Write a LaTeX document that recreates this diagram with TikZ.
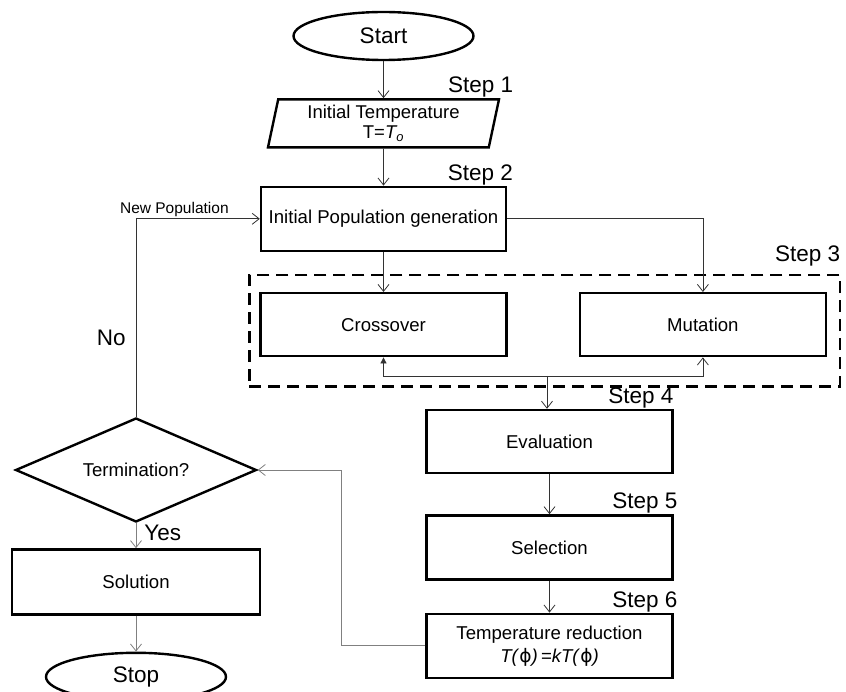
\documentclass[tikz,border=0pt]{standalone}
\usepackage{fontspec}
\setmainfont{Liberation Sans}
\newfontfamily\greekfont{DejaVu Sans}
\usepackage{xcolor}
\usepackage{tikz}
\usetikzlibrary{positioning, arrows.meta, fit, shapes.geometric}

\begin{document}
\begin{tikzpicture}[x=1pt, y=-1pt, node distance=40pt and 71pt]

	% Styles
	\tikzset{
		terminal/.style={
			ellipse, draw, line width=2.4pt,
			minimum width=180pt, minimum height=48pt,
			inner sep=0pt, font=\fontsize{22.5}{26}\selectfont
		},
		inputbox/.style={
			trapezium, trapezium left angle=75, trapezium right angle=105,
			trapezium stretches body=true, draw, line width=2.4pt,
			minimum width=231pt, minimum height=48pt,
			inner sep=1pt, align=center, font=\fontsize{18.5}{20}\selectfont
		},
		process/.style={
			rectangle, draw, line width=2.4pt,
			minimum width=246pt, minimum height=64pt,
			inner sep=2pt, align=center, font=\fontsize{18.6}{23}\selectfont
		},
		decision/.style={
			diamond, draw, line width=2.4pt, aspect=2.3,
			minimum width=241pt, minimum height=104pt,
			inner sep=0pt, font=\fontsize{18.6}{22}\selectfont
		},
		stepframe/.style={
			rectangle, draw, line width=2.4pt, dash pattern=on 12pt off 7pt, inner sep=0pt
		},
		steplabel/.style={
			anchor=base east, inner sep=0pt, font=\fontsize{22.5}{26}\selectfont
		},
		labelbox/.style={
			draw=none, fill=none, text=black, inner sep=0pt, font=\fontsize{22.5}{26}\selectfont
		},
		smalllabel/.style={
			draw=none, fill=none, text=black, inner sep=0pt, font=\fontsize{15.5}{18}\selectfont
		},
		arrowflow/.style={line width=0.8pt, black!80, -{Straight Barb[length=7pt, width=11pt]}},
		arrowfill/.style={line width=0.8pt, black!80, -{Triangle[length=6pt, width=6pt]}},
		arrowback/.style={line width=0.8pt, black!50, -{Straight Barb[length=7pt, width=11pt]}}
	}

	\useasboundingbox (0,0) rectangle (846,692);

	% Main column
	\node (start) [terminal] at (383.5,36) {Start};
	\node (inittemp) [inputbox, below=37pt of start] {Initial Temperature\\T=\textit{T\textsubscript{o}}};
	\node (initpop) [process, below=37pt of inittemp, minimum width=245pt] {Initial Population generation};

	% Step 3: crossover and mutation
	\node (crossover) [process, below=of initpop, minimum height=63pt] {Crossover};
	\node (mutation) [process, right=of crossover, minimum height=63pt] {Mutation};
	\node (stepthree) [stepframe, fit={([xshift=-10pt,yshift=17pt]crossover.north west) ([xshift=13pt,yshift=-29pt]mutation.south east)}] {};
	\coordinate (join) at (547,376);

	% Right column
	\node (evaluation) [process, minimum height=63pt] at (549.5,441.5) {Evaluation};
	\node (selection) [process, below=of evaluation] {Selection};
	\node (tempred) [process, below=32pt of selection] {Temperature reduction\\\textit{T(}{\greekfont ϕ}\textit{)\,=kT(}{\greekfont ϕ}\textit{)}};
	\coordinate (fbk) at (341,0);

	% Left column
	\node (term) [decision] at (136,470) {Termination?};
	\node (solution) [process, below=25pt of term, minimum width=248pt, minimum height=65pt] {Solution};
	\node (stop) [terminal, below=36pt of solution] {Stop};

	% Step labels
	\node (stepone) [steplabel] at ([xshift=13pt,yshift=6pt]inittemp.top right corner) {Step 1};
	\node (steptwo) [steplabel] at ([xshift=6pt,yshift=5pt]initpop.north east) {Step 2};
	\node (stepthreelbl) [steplabel] at ([xshift=-1pt,yshift=12pt]stepthree.north east) {Step 3};
	\node (stepfour) [steplabel] at ([yshift=5pt]evaluation.north east) {Step 4};
	\node (stepfive) [steplabel] at ([xshift=4pt,yshift=6pt]selection.north east) {Step 5};
	\node (stepsix) [steplabel] at ([xshift=4pt,yshift=5pt]tempred.north east) {Step 6};

	% Forward arrows
	\draw[arrowflow] (start) -- (inittemp);
	\draw[arrowflow] (inittemp) -- (initpop);
	\draw[arrowflow] (initpop) -- (crossover);
	\draw[arrowflow] (initpop.east) -| (mutation.north);
	\draw[arrowfill] (join) -| (crossover.south);
	\draw[arrowflow] (join) -| (mutation.south);
	\draw[arrowflow] (join) -- (join |- evaluation.north);
	\draw[arrowflow] (evaluation) -- (selection);
	\draw[arrowflow] (selection) -- (tempred);

	% Loop back
	\draw[arrowback] (tempred.west) -- (tempred.west -| fbk) |- (term.east);
	\draw[arrowflow] (term.north) |- node[labelbox, pos=0.2, left=10pt] (nolbl) {No}
		node[smalllabel, pos=0.655, above=2pt] (newpop) {New Population} (initpop.west);
	\draw[arrowback] (term) -- node[labelbox, pos=0.4, right=8pt] (yeslbl) {Yes} (solution);
	\draw[arrowback] (solution) -- (stop);

\end{tikzpicture}
\end{document}
